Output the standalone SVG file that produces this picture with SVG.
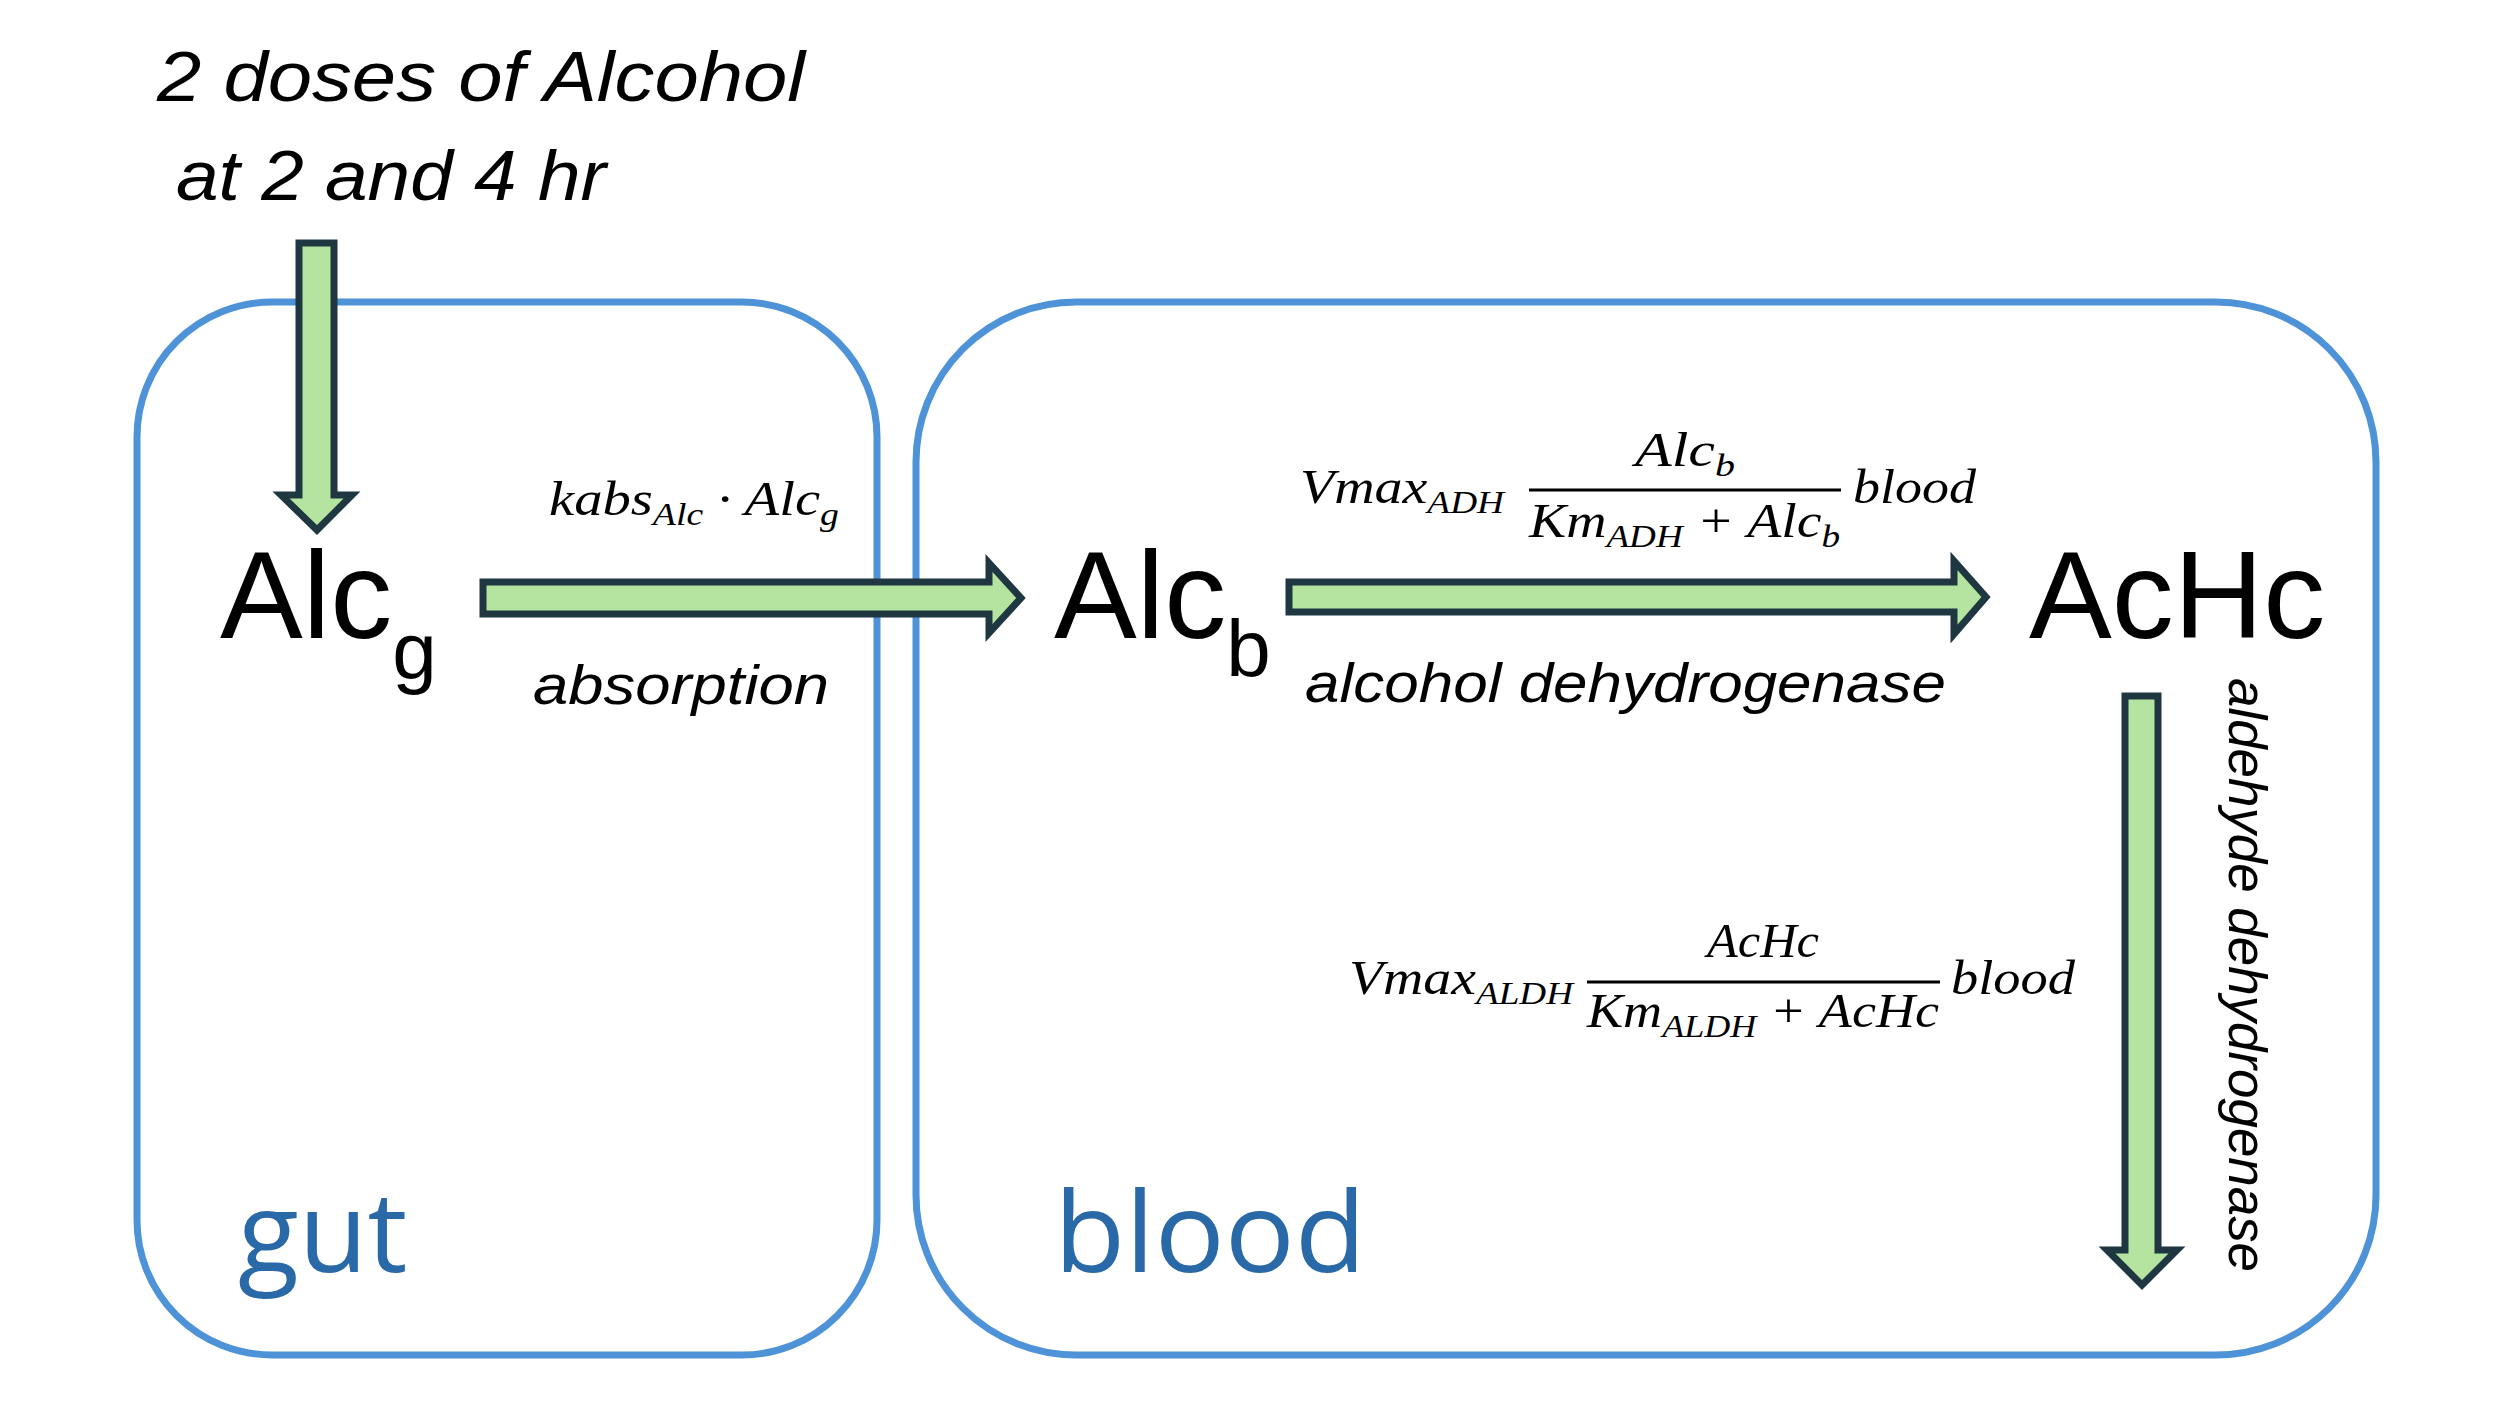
<svg xmlns="http://www.w3.org/2000/svg" width="2507" height="1424" viewBox="0 0 2507 1424">
<style>
.box{fill:none;stroke:#4E93D8;stroke-width:7}
.arr{fill:#B5E4A1;stroke:#1E3740;stroke-width:7;stroke-linejoin:miter}
.lab{font-family:"Liberation Sans",Arial,sans-serif;font-style:italic;fill:#000}
.node{font-family:"Liberation Sans",Arial,sans-serif;fill:#000}
.math{font-family:"Liberation Serif","Times New Roman",serif;font-style:italic;fill:#000}
.comp{font-family:"Open Sans","Liberation Sans",sans-serif;fill:#2A69A8}
</style>
<rect width="2507" height="1424" fill="#fff"/>
<g id="gut">
<rect class="box" x="137" y="302" width="740" height="1053" rx="135" ry="135"/>
<text class="comp" x="238" y="1272" font-size="112">gut</text>
</g>
<g id="blood">
<rect class="box" x="916" y="302" width="1460" height="1053" rx="160" ry="160"/>
<text class="comp" x="1054" y="1272" font-size="112" textLength="312" lengthAdjust="spacingAndGlyphs">blood</text>
</g>
<g id="dose">
<text class="lab" font-size="70"><tspan x="157" y="101" textLength="648" lengthAdjust="spacingAndGlyphs">2 doses of Alcohol</tspan><tspan x="176" y="200" textLength="430" lengthAdjust="spacingAndGlyphs">at 2 and 4 hr</tspan></text>
</g>
<g id="Alcg"><text class="node" x="220" y="638" font-size="124">Alc<tspan font-size="80" dy="40">g</tspan></text></g>
<g id="Alcb"><text class="node" x="1054" y="638" font-size="124">Alc<tspan font-size="80" dy="38">b</tspan></text></g>
<g id="AcHc"><text class="node" x="2029" y="638" font-size="124">AcHc</text></g>
<g id="connectors">
<path class="arr" d="M299,243 H334 V495 H352 L317,530 L281,495 H299 Z"/>
<path class="arr" d="M483,582 H989 V563 L1021,598 L989,633 V614 H483 Z"/>
<path class="arr" d="M1289,582 H1954 V561 L1986,597 L1954,634 V612 H1289 Z"/>
<path class="arr" d="M2125,696 H2158 V1250 H2177 L2142,1285 L2107,1250 H2125 Z"/>
</g>
<g id="labels">
<text class="math" x="549" y="515" font-size="48" textLength="290" lengthAdjust="spacingAndGlyphs">kabs<tspan font-size="32" dy="10">Alc</tspan><tspan dy="-10"> · Alc</tspan><tspan font-size="32" dy="10">g</tspan></text>
<text class="lab" x="533" y="704" font-size="56" textLength="296" lengthAdjust="spacingAndGlyphs">absorption</text>
<text class="math" x="1300" y="503" font-size="48" textLength="204" lengthAdjust="spacingAndGlyphs">Vmax<tspan font-size="32" dy="10">ADH</tspan></text>
<text class="math" x="1635" y="466" font-size="48" textLength="100" lengthAdjust="spacingAndGlyphs">Alc<tspan font-size="32" dy="10">b</tspan></text>
<line x1="1529" y1="490" x2="1841" y2="490" stroke="#000" stroke-width="3"/>
<text class="math" x="1529" y="537" font-size="48" textLength="311" lengthAdjust="spacingAndGlyphs">Km<tspan font-size="32" dy="10">ADH</tspan><tspan dy="-10"> + Alc</tspan><tspan font-size="32" dy="10">b</tspan></text>
<text class="math" x="1853" y="503" font-size="48" textLength="123" lengthAdjust="spacingAndGlyphs">blood</text>
<text class="lab" x="1305" y="702" font-size="56" textLength="641" lengthAdjust="spacingAndGlyphs">alcohol dehydrogenase</text>
<text class="math" x="1349" y="994" font-size="48" textLength="224" lengthAdjust="spacingAndGlyphs">Vmax<tspan font-size="32" dy="10">ALDH</tspan></text>
<text class="math" x="1707" y="957" font-size="48" textLength="112" lengthAdjust="spacingAndGlyphs">AcHc</text>
<line x1="1587" y1="982" x2="1940" y2="982" stroke="#000" stroke-width="3"/>
<text class="math" x="1587" y="1027" font-size="48" textLength="352" lengthAdjust="spacingAndGlyphs">Km<tspan font-size="32" dy="10">ALDH</tspan><tspan dy="-10"> + AcHc</tspan></text>
<text class="math" x="1951" y="994" font-size="48" textLength="124" lengthAdjust="spacingAndGlyphs">blood</text>
<text class="lab" font-size="54" transform="translate(2229,678) rotate(90)" x="0" y="0" textLength="594" lengthAdjust="spacingAndGlyphs">aldehyde dehydrogenase</text>
</g>
</svg>
